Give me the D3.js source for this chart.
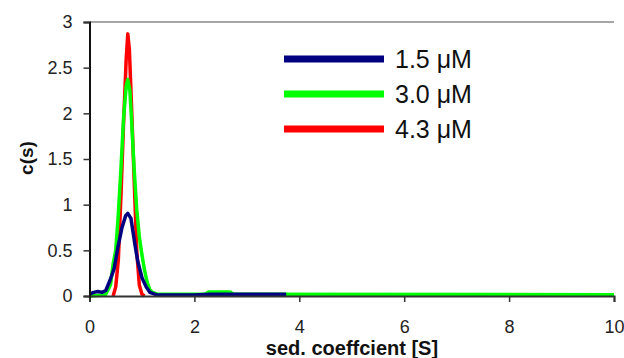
<!DOCTYPE html>
<html>
<head>
<meta charset="utf-8">
<script src="https://cdn.jsdelivr.net/npm/d3@7"></script>
<style>
  body { margin: 0; background: #fff; }
  text { font-family: "Liberation Sans", Arial, sans-serif; }
</style>
</head>
<body>
<svg id="chart" width="624" height="358"></svg>
<script>
// sedimentation coefficient (S) and c(s) for each concentration
const blueS = [0, 0.08, 0.16, 0.24, 0.31, 0.39, 0.47, 0.54, 0.62, 0.69, 0.73, 0.79, 0.87, 0.92, 1.0, 1.08, 1.15, 1.27, 1.4, 2.0, 2.3, 3.0, 3.75];
const blueC = [0.02, 0.04, 0.05, 0.04, 0.06, 0.17, 0.3, 0.53, 0.75, 0.88, 0.905, 0.85, 0.55, 0.38, 0.2, 0.1, 0.04, 0.015, 0.01, 0.01, 0.02, 0.02, 0.02];

const greenS = [0, 0.3, 0.4, 0.45, 0.5, 0.55, 0.6, 0.65, 0.7, 0.73, 0.77, 0.8, 0.85, 0.9, 0.95, 1.0, 1.05, 1.1, 1.15, 1.2, 1.3, 2.2, 2.28, 2.68, 2.75, 10];
const greenC = [0, 0.01, 0.12, 0.35, 0.5, 0.9, 1.4, 1.95, 2.3, 2.37, 2.25, 1.95, 1.4, 0.95, 0.65, 0.45, 0.28, 0.15, 0.07, 0.04, 0.02, 0.02, 0.045, 0.045, 0.02, 0.015];

const redS = [0.45, 0.5, 0.55, 0.6, 0.65, 0.7, 0.73, 0.76, 0.8, 0.85, 0.9, 0.95, 1.0, 1.05];
const redC = [0, 0.1, 0.4, 1.1, 1.9, 2.6, 2.87, 2.7, 2.1, 1.3, 0.5, 0.12, 0.02, 0];

const legendLabels = ['1.5 μM', '3.0 μM', '4.3 μM'];
const xTicks = [0, 2, 4, 6, 8, 10];
const yTicks = [0, 0.5, 1, 1.5, 2, 2.5, 3];

const series = [
  {name: legendLabels[2], s: redS, c: redC, color: '#ff0000'},
  {name: legendLabels[1], s: greenS, c: greenC, color: '#00ff00'},
  {name: legendLabels[0], s: blueS, c: blueC, color: '#000080'}
];

const margin = {top: 22, right: 10, bottom: 62, left: 89.5};

const svg = d3.select('#chart');

let x = d3.scaleLinear().domain([0, 10]).range([margin.left, 614]);
let y = d3.scaleLinear().domain([0, 3]).range([296, margin.top]);

// top border
svg.append('line')
  .attr('x1', x(0)).attr('x2', x(10))
  .attr('y1', y(3)).attr('y2', y(3))
  .attr('stroke', '#888').attr('stroke-width', 1.5);

let line = d3.line()
  .x(function (d) { return x(d[0]); })
  .y(function (d) { return y(d[1]); });

svg.selectAll('.series')
  .data(series)
  .enter()
  .append('path')
  .attr('class', 'series')
  .attr('d', function (d) { return line(d3.zip(d.s, d.c)); })
  .attr('fill', 'none')
  .attr('stroke', function (d) { return d.color; })
  .attr('stroke-width', 3.5)
  .attr('stroke-linejoin', 'round');

// axes
let xAxis = svg.append('g')
  .attr('transform', 'translate(0,' + y(0) + ')')
  .call(d3.axisBottom(x).tickValues(xTicks).tickSize(6).tickPadding(18).tickFormat(d3.format('d')));
xAxis.select('.domain').attr('stroke', '#333').attr('stroke-width', 2);
xAxis.selectAll('.tick line').attr('stroke', '#333').attr('stroke-width', 1.5);
xAxis.selectAll('.tick text')
  .attr('font-size', 18).attr('fill', '#222')
  .attr('font-family', '"Liberation Sans", Arial, sans-serif');

let yAxis = svg.append('g')
  .attr('transform', 'translate(' + x(0) + ',0)')
  .call(d3.axisLeft(y).tickValues(yTicks).tickSize(6).tickPadding(11).tickFormat(d3.format('')));
yAxis.select('.domain').attr('stroke', '#111').attr('stroke-width', 2);
yAxis.selectAll('.tick line').attr('stroke', '#333').attr('stroke-width', 1.5);
yAxis.selectAll('.tick text')
  .attr('font-size', 18).attr('fill', '#222')
  .attr('font-family', '"Liberation Sans", Arial, sans-serif');

// axis titles
svg.append('text')
  .attr('x', 352).attr('y', 355)
  .attr('text-anchor', 'middle')
  .attr('font-size', 20).attr('font-weight', 'bold').attr('fill', '#111')
  .text('sed. coeffcient [S]');

svg.append('text')
  .attr('transform', 'translate(33,158) rotate(-90)')
  .attr('text-anchor', 'middle')
  .attr('font-size', 19).attr('font-weight', 'bold').attr('fill', '#111')
  .text('c(s)');

// legend
const legendItems = [series[2], series[1], series[0]];
let legend = svg.selectAll('.legend')
  .data(legendItems)
  .enter()
  .append('g')
  .attr('class', 'legend')
  .attr('transform', function (d, i) { return 'translate(284,' + (59 + i * 35) + ')'; });

legend.append('line')
  .attr('x1', 0).attr('x2', 100)
  .attr('stroke', function (d) { return d.color; })
  .attr('stroke-width', 7);

legend.append('text')
  .attr('x', 111).attr('y', 9)
  .attr('font-size', 25).attr('fill', '#111')
  .text(function (d) { return d.name; });
</script>
</body>
</html>
